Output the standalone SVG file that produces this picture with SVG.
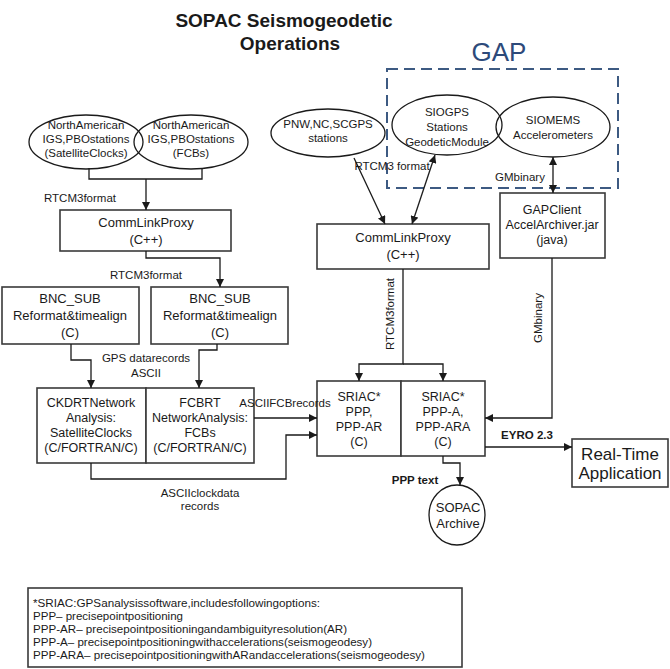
<svg xmlns="http://www.w3.org/2000/svg" width="670" height="669" viewBox="0 0 670 669">
<style>
text{font-family:"Liberation Sans",Arial,sans-serif;fill:#1a1a1a}
.e{fill:none;stroke:#1a1a1a;stroke-width:1.3}
.b{fill:#fff;stroke:#3a3a3a;stroke-width:1.6}
.c{fill:none;stroke:#1a1a1a;stroke-width:1.3}
.t11{font-size:11.5px;text-anchor:middle}
.t12{font-size:12.5px;text-anchor:middle}
.t13{font-size:13px;text-anchor:middle}
.lbl{font-size:11.5px;text-anchor:middle}
.bold{font-weight:bold}
</style>
<defs>
<marker id="ah" viewBox="0 0 10 10" refX="10" refY="5" markerWidth="8" markerHeight="8" markerUnits="userSpaceOnUse" orient="auto-start-reverse">
<path d="M0,0 L10,5 L0,10 Z" fill="#1a1a1a"/>
</marker>
</defs>

<g id="title">
<text x="284" y="27" font-size="19" font-weight="bold" text-anchor="middle">SOPAC Seismogeodetic</text>
<text x="290" y="50" font-size="19" font-weight="bold" text-anchor="middle">Operations</text>
</g>

<g id="gap">
<text x="499" y="61" font-size="26" text-anchor="middle" style="fill:#2d4a7a">GAP</text>
<rect x="387" y="69" width="231" height="119" fill="none" stroke="#3d5a82" stroke-width="2" stroke-dasharray="11 6"/>
</g>

<g id="na-clocks">
<ellipse class="e" cx="86" cy="142" rx="57" ry="27"/>
<text class="t11" x="86" y="129">NorthAmerican</text>
<text class="t11" x="86" y="143">IGS,PBOstations</text>
<text class="t11" x="86" y="157">(SatelliteClocks)</text>
</g>
<g id="na-fcbs">
<ellipse class="e" cx="191" cy="142" rx="57" ry="27"/>
<text class="t11" x="191" y="129">NorthAmerican</text>
<text class="t11" x="191" y="143">IGS,PBOstations</text>
<text class="t11" x="191" y="157">(FCBs)</text>
</g>
<g id="pnw">
<ellipse class="e" cx="328" cy="133" rx="57" ry="24"/>
<text class="t11" x="328" y="128">PNW,NC,SCGPS</text>
<text class="t11" x="328" y="142">stations</text>
</g>
<g id="siogps">
<ellipse class="e" cx="447" cy="125" rx="55" ry="30"/>
<text class="t11" x="447" y="116">SIOGPS</text>
<text class="t11" x="447" y="131">Stations</text>
<text class="t11" x="447" y="146">GeodeticModule</text>
</g>
<g id="siomems">
<ellipse class="e" cx="553" cy="127" rx="57" ry="30"/>
<text class="t11" x="553" y="124">SIOMEMS</text>
<text class="t11" x="553" y="139">Accelerometers</text>
</g>

<g id="clp-left">
<rect class="b" x="60" y="210" width="171" height="41"/>
<text class="t13" x="146" y="227">CommLinkProxy</text>
<text class="t13" x="146" y="244">(C++)</text>
</g>
<g id="clp-right">
<rect class="b" x="317" y="224" width="172" height="45"/>
<text class="t13" x="403" y="242">CommLinkProxy</text>
<text class="t13" x="403" y="259">(C++)</text>
</g>
<g id="gapclient">
<rect class="b" x="500" y="193" width="105" height="65"/>
<text class="t12" x="552" y="214">GAPClient</text>
<text class="t12" x="552" y="229">AccelArchiver.jar</text>
<text class="t12" x="552" y="244">(java)</text>
</g>

<g id="bnc-left">
<rect class="b" x="2" y="287" width="137" height="57"/>
<text class="t13" x="70" y="303">BNC_SUB</text>
<text class="t13" x="70" y="320">Reformat&amp;timealign</text>
<text class="t13" x="70" y="337">(C)</text>
</g>
<g id="bnc-right">
<rect class="b" x="151" y="287" width="137" height="57"/>
<text class="t13" x="220" y="303">BNC_SUB</text>
<text class="t13" x="220" y="320">Reformat&amp;timealign</text>
<text class="t13" x="220" y="337">(C)</text>
</g>

<g id="ckdrt">
<rect class="b" x="37" y="388" width="109" height="75"/>
<text class="t12" x="91" y="407">CKDRTNetwork</text>
<text class="t12" x="91" y="422">Analysis:</text>
<text class="t12" x="91" y="437">SatelliteClocks</text>
<text class="t12" x="91" y="452">(C/FORTRAN/C)</text>
</g>
<g id="fcbrt">
<rect class="b" x="146" y="388" width="108" height="75"/>
<text class="t12" x="200" y="407">FCBRT</text>
<text class="t12" x="200" y="422">NetworkAnalysis:</text>
<text class="t12" x="200" y="437">FCBs</text>
<text class="t12" x="200" y="452">(C/FORTRAN/C)</text>
</g>

<g id="sriac-ppp">
<rect class="b" x="317" y="381" width="84" height="75"/>
<text class="t12" x="359" y="401">SRIAC*</text>
<text class="t12" x="359" y="416">PPP,</text>
<text class="t12" x="359" y="431">PPP-AR</text>
<text class="t12" x="359" y="446">(C)</text>
</g>
<g id="sriac-ppp-a">
<rect class="b" x="401" y="381" width="84" height="75"/>
<text class="t12" x="443" y="401">SRIAC*</text>
<text class="t12" x="443" y="416">PPP-A,</text>
<text class="t12" x="443" y="431">PPP-ARA</text>
<text class="t12" x="443" y="446">(C)</text>
</g>

<g id="realtime">
<rect class="b" x="572" y="439" width="96" height="48"/>
<text x="620" y="460" font-size="17" text-anchor="middle">Real-Time</text>
<text x="620" y="479" font-size="17" text-anchor="middle">Application</text>
</g>

<g id="sopac-archive">
<ellipse class="e" cx="457" cy="515" rx="28" ry="30"/>
<text class="t13" x="458" y="512">SOPAC</text>
<text class="t13" x="458" y="528">Archive</text>
</g>

<g id="connectors">
<path class="c" d="M89,168 V179 H202 V168"/>
<path class="c" d="M146,179 V210" marker-end="url(#ah)"/>
<path class="c" d="M146,251 V258 H220 V287" marker-end="url(#ah)"/>
<path class="c" d="M71,344 V360 H91 V388" marker-end="url(#ah)"/>
<path class="c" d="M217,344 V350 H199 V388" marker-end="url(#ah)"/>
<path class="c" d="M254,418 H317" marker-end="url(#ah)"/>
<path class="c" d="M91,463 V479 H286 V435 H317" marker-end="url(#ah)"/>
<path class="c" d="M354,158 L385,224" marker-end="url(#ah)"/>
<path class="c" d="M435,155 L412,224" marker-start="url(#ah)" marker-end="url(#ah)"/>
<path class="c" d="M553,157 V193" stroke-width="1.8" marker-start="url(#ah)" marker-end="url(#ah)"/>
<path class="c" d="M403,269 V364 H359 V381" marker-end="url(#ah)"/>
<path class="c" d="M403,364 H443 V381" marker-end="url(#ah)"/>
<path class="c" d="M552,258 V418 H485" stroke-width="1.6" marker-end="url(#ah)"/>
<path class="c" d="M485,447 H572" stroke-width="1.6" marker-end="url(#ah)"/>
<path class="c" d="M443,456 V463 H460 V485" marker-end="url(#ah)"/>
<text class="lbl" x="80" y="202">RTCM3format</text>
<text class="lbl" x="146" y="279">RTCM3format</text>
<text class="lbl" x="146" y="362">GPS datarecords</text>
<text class="lbl" x="146" y="377">ASCII</text>
<text class="lbl" x="285" y="407">ASCIIFCBrecords</text>
<text class="lbl" x="200" y="497">ASCIIclockdata</text>
<text class="lbl" x="200" y="510">records</text>
<text class="lbl" x="392" y="170">RTCM3 format</text>
<text class="lbl" x="520" y="181">GMbinary</text>
<text class="lbl" transform="translate(394,314) rotate(-90)">RTCM3format</text>
<text class="lbl" transform="translate(542,318) rotate(-90)">GMbinary</text>
<text class="lbl bold" x="527" y="439" font-size="12">EYRO 2.3</text>
<text class="lbl bold" x="415" y="484">PPP text</text>
</g>

<g id="footnote">
<rect x="28" y="588" width="434" height="79" fill="#fff" stroke="#3a3a3a" stroke-width="1.6"/>
<text x="33" y="607" font-size="10.5" textLength="287" lengthAdjust="spacingAndGlyphs">*SRIAC:GPSanalysissoftware,includesfollowingoptions:</text>
<text x="33" y="620" font-size="10.5" textLength="150" lengthAdjust="spacingAndGlyphs">PPP– precisepointpositioning</text>
<text x="33" y="633" font-size="10.5" textLength="314" lengthAdjust="spacingAndGlyphs">PPP-AR– precisepointpositioningandambiguityresolution(AR)</text>
<text x="33" y="646" font-size="10.5" textLength="339" lengthAdjust="spacingAndGlyphs">PPP-A– precisepointpositioningwithaccelerations(seismogeodesy)</text>
<text x="33" y="659" font-size="10.5" textLength="392" lengthAdjust="spacingAndGlyphs">PPP-ARA– precisepointpositioningwithARandaccelerations(seismogeodesy)</text>
</g>
</svg>
